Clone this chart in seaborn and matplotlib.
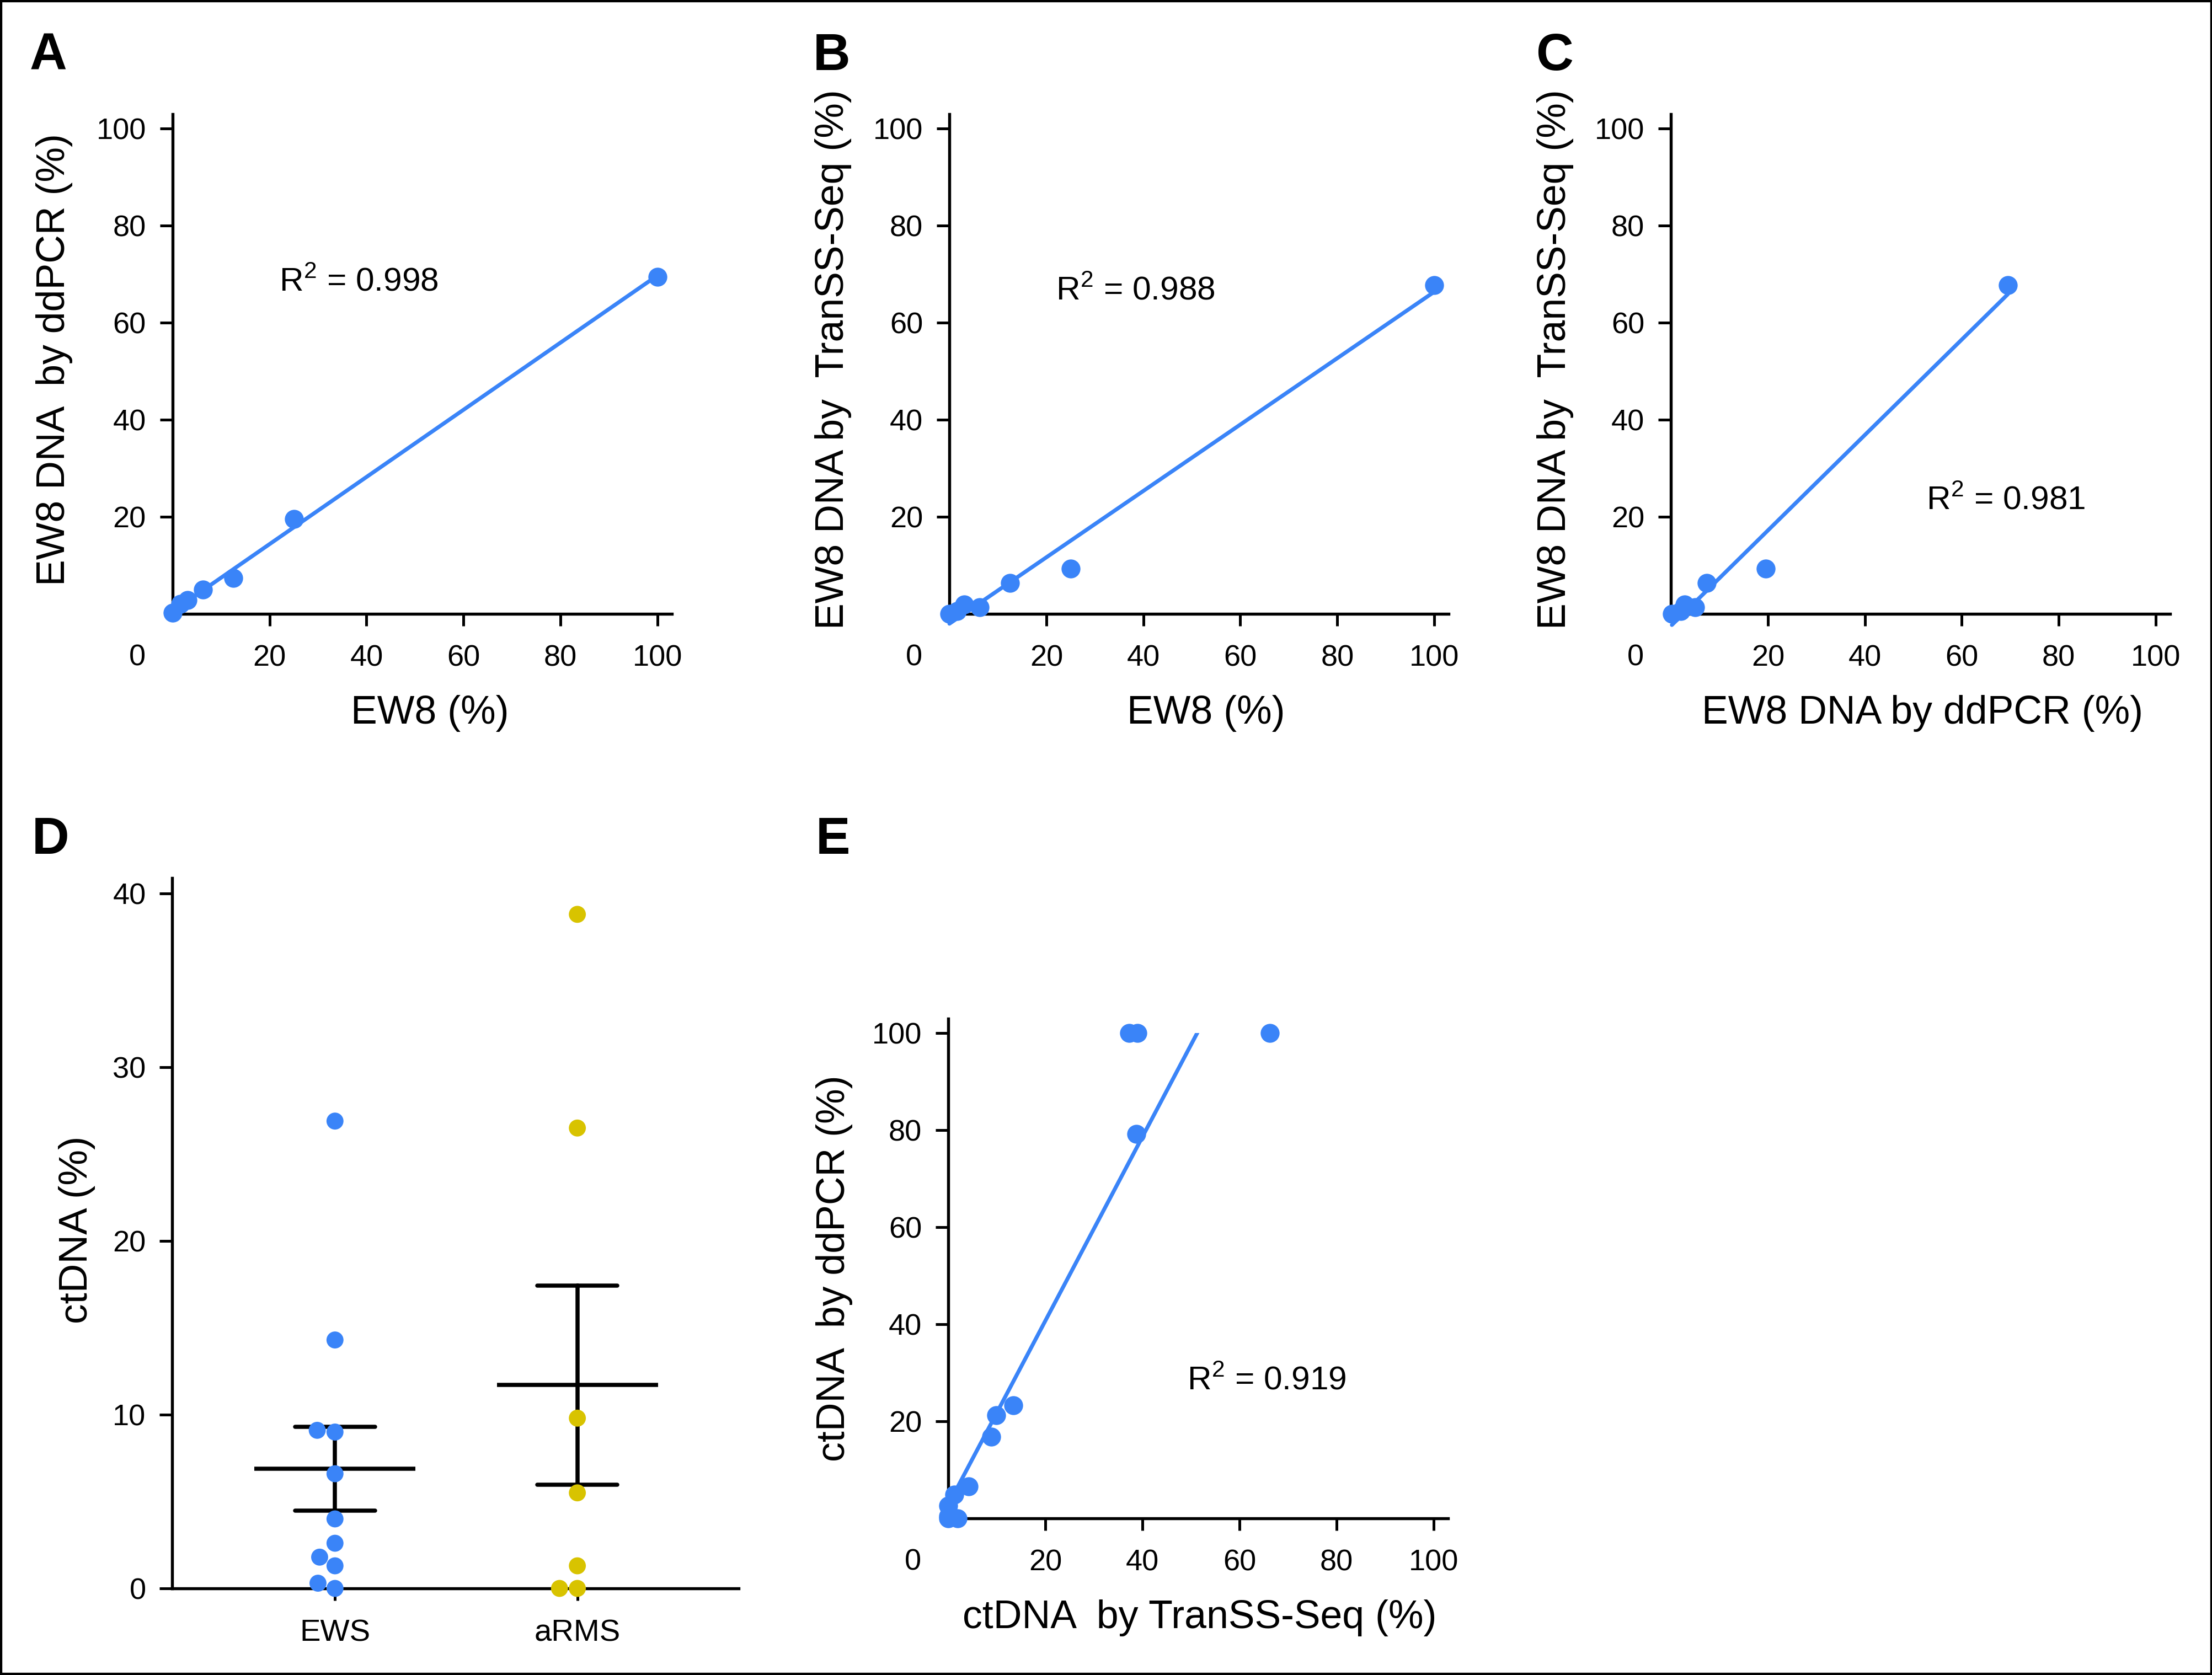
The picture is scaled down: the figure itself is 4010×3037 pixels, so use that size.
import numpy as np
import pandas as pd
import matplotlib.pyplot as plt
import matplotlib.transforms as mtransforms
from matplotlib.patches import Rectangle
import seaborn as sns

# EW8 spike-in dilution series (%)
ew8_pct = [0, 1.6, 3.1, 6.3, 12.5, 25, 100]
ew8_ddpcr = [0.2, 2.0, 2.8, 5.0, 7.4, 19.6, 69.5]
ew8_transs = [0.0, 0.6, 1.9, 1.4, 6.4, 9.3, 67.8]

# patient ctDNA by tumour type (%)
ews_ctdna = [26.9, 14.3, 9.0, 9.1, 6.6, 4.0, 2.6, 1.8, 1.3, 0.0, 0.3]
arms_ctdna = [38.8, 26.5, 9.8, 5.5, 1.3, 0.0, 0.0]
groups = ["EWS", "aRMS"]

# patient ctDNA, TranSS-Seq vs ddPCR (%)
ctdna_transs = [0, 1.9, 0, 0, 1.2, 4.2, 8.9, 9.9, 13.4, 38.7, 37.3, 39.0, 66.3]
ctdna_ddpcr = [0, 0, 0.5, 2.6, 4.9, 6.6, 16.8, 21.3, 23.3, 79.3, 100, 100, 100]

r2_labels = ["R$^2$ = 0.998", "R$^2$ = 0.988", "R$^2$ = 0.981", "R$^2$ = 0.919"]
pct_ticks = [20, 40, 60, 80, 100]

BLUE = "#3A84F8"
YELLOW = "#D8C300"
W, H = 4011, 3037

sns.set_style("ticks")
plt.rcParams["font.family"] = ["Liberation Sans", "DejaVu Sans"]
plt.rcParams.update({
    "mathtext.fontset": "custom",
    "mathtext.rm": "Liberation Sans",
    "text.color": "black",
    "axes.edgecolor": "black",
    "axes.labelcolor": "black",
    "xtick.color": "black",
    "ytick.color": "black",
    "axes.linewidth": 1.3,
    "xtick.major.width": 1.2,
    "ytick.major.width": 1.2,
    "xtick.major.size": 5.3,
    "ytick.major.size": 5.5,
    "xtick.major.pad": 8.0,
    "ytick.major.pad": 6.0,
    "xtick.labelsize": 13,
    "ytick.labelsize": 13,
})
LABEL_FONT = dict(family="Liberation Sans", size=17.2)

fig = plt.figure(figsize=(W / 300, H / 300), dpi=300)
axA = fig.add_axes([0.0780, 0.6335, 0.2257, 0.2984])
axB = fig.add_axes([0.4291, 0.6335, 0.2257, 0.2984])
axC = fig.add_axes([0.7552, 0.6335, 0.2257, 0.2984])
axD = fig.add_axes([0.0779, 0.0517, 0.2560, 0.4242])
axE = fig.add_axes([0.4286, 0.0935, 0.2259, 0.2983])


def scatter_panel(ax, x, y, xlabel, ylabel, r2, r2_xy, xlabel_x, ylabel_x, line_clip=False):
    sns.regplot(x=np.array(x), y=np.array(y), ax=ax, ci=None, color=BLUE,
                scatter_kws=dict(s=68, linewidths=0, alpha=1, zorder=3, clip_on=False),
                line_kws=dict(lw=1.7, zorder=2, clip_on=line_clip))
    ax.set(xlim=(0, 103), ylim=(0, 103), xticks=pct_ticks, yticks=pct_ticks)
    # Prism-style zero label shifted off the axis corner
    ax.text(-7.3, -0.0877, "0", fontsize=13, ha="center", va="center",
            transform=mtransforms.blended_transform_factory(ax.transData, ax.transAxes))
    ax.text(r2_xy[0], r2_xy[1], r2, fontsize=14.5, va="baseline")
    ax.set_xlabel(xlabel, va="center", **LABEL_FONT)
    ax.set_ylabel(ylabel, va="center", **LABEL_FONT)
    ax.xaxis.set_label_coords(xlabel_x, -0.199)
    ax.yaxis.set_label_coords(ylabel_x, 0.509)
    sns.despine(ax=ax)


scatter_panel(axA, ew8_pct, ew8_ddpcr, "EW8 (%)", "EW8 DNA  by ddPCR (%)",
              r2_labels[0], (22, 66.6), 0.515, -0.2365)
scatter_panel(axB, ew8_pct, ew8_transs, "EW8 (%)", "EW8 DNA by  TranSS-Seq (%)",
              r2_labels[1], (22, 64.7), 0.514, -0.233)
scatter_panel(axC, ew8_ddpcr, ew8_transs, "EW8 DNA by ddPCR (%)", "EW8 DNA by  TranSS-Seq (%)",
              r2_labels[2], (52.7, 21.6), 0.504, -0.231)
scatter_panel(axE, ctdna_transs, ctdna_ddpcr, "ctDNA  by TranSS-Seq (%)", "ctDNA  by ddPCR (%)",
              r2_labels[3], (49.2, 26.5), 0.503, -0.228, line_clip=True)
axE.yaxis.set_label_coords(-0.228, 0.5)
# Prism stops the fit line at the top of the data range (100 %)
fit_line = axE.lines[-1]
fit_line.set_clip_path(Rectangle((-5, -5), 120, 105, transform=axE.transData))

# D: dot plot with mean +/- SEM
tumour = pd.DataFrame({
    "group": [groups[0]] * len(ews_ctdna) + [groups[1]] * len(arms_ctdna),
    "ctdna": ews_ctdna + arms_ctdna,
})
sns.swarmplot(data=tumour, x="group", y="ctdna", order=groups, hue="group",
              palette={groups[0]: BLUE, groups[1]: YELLOW}, size=7.4, linewidth=0,
              legend=False, clip_on=False, zorder=3, ax=axD)
sns.pointplot(data=tumour, x="group", y="ctdna", order=groups, errorbar="se",
              capsize=0.33, color="black", markers="_", linestyles="none",
              markersize=70, markeredgewidth=1.8, err_kws={"linewidth": 1.8}, ax=axD)
axD.set(xlim=(-0.671, 1.666), ylim=(0, 40.9), yticks=[0, 10, 20, 30, 40])
axD.tick_params(axis="x", labelsize=13.5)
axD.set_xlabel("")
axD.set_ylabel("ctDNA (%)", va="center", family="Liberation Sans", size=17.5)
axD.yaxis.set_label_coords(-0.168, 0.505)
sns.despine(ax=axD)

for letter, (px, py) in zip("ABCDE", [(54, 127), (1474, 127), (2784, 127), (58, 1548), (1479, 1548)]):
    fig.text(px / W, 1 - py / H, letter, fontsize=22.5, fontweight="bold", ha="left", va="baseline")

fig.add_artist(Rectangle((0, 0), 1, 1, transform=fig.transFigure, fill=False, lw=2, ec="black"))

fig.savefig("out.png", dpi=300)
